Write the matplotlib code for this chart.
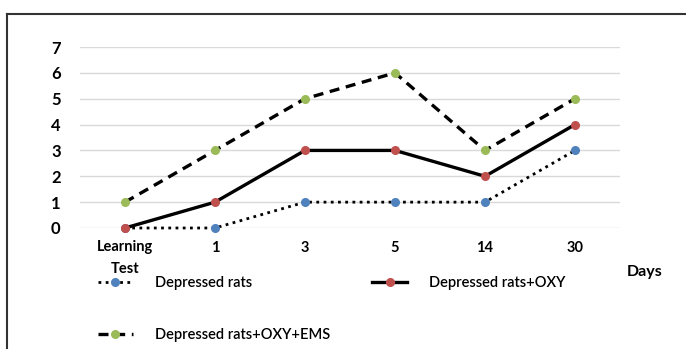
import matplotlib.pyplot as plt
from matplotlib.lines import Line2D

# data
days = ['Learning\nTest', '1', '3', '5', '14', '30']
depressed = [0, 0, 1, 1, 1, 3]
oxy = [0, 1, 3, 3, 2, 4]
oxy_ems = [1, 3, 5, 6, 3, 5]

plt.rcParams['font.family'] = ['Lato', 'DejaVu Sans']

fig = plt.figure(figsize=(6.86, 3.49), dpi=100)
ax = fig.add_axes([80 / 686, 1 - 228 / 349, 540 / 686, 181 / 349])

x = list(range(len(days)))
l1, = ax.plot(x, depressed, color='black', lw=2.0, ls=(0, (1, 1.6)),
              marker='o', ms=5.5, mfc='#4f81bd', mec='#4f81bd', clip_on=False, zorder=3)
l2, = ax.plot(x, oxy, color='black', lw=2.4, ls='-',
              marker='o', ms=5.5, mfc='#c0504d', mec='#c0504d', clip_on=False, zorder=3)
l3, = ax.plot(x, oxy_ems, color='black', lw=2.4, ls=(0, (3, 2)),
              marker='o', ms=5.5, mfc='#9bbb59', mec='#9bbb59', clip_on=False, zorder=3)

ax.set_xlim(-0.5, len(days) - 0.5)
ax.set_ylim(0, 7)
ax.set_yticks(range(0, 8))
ax.set_xticks(x)
ax.set_xticklabels(days, fontsize=10.5, fontweight='bold', linespacing=1.7)
ax.tick_params(axis='y', labelsize=12, length=0, pad=14)
ax.tick_params(axis='x', length=0, pad=9)
for t in ax.get_yticklabels():
    t.set_fontweight('bold')
ax.grid(axis='y', color='#d9d9d9', lw=1)
ax.set_axisbelow(True)
for s in ax.spines.values():
    s.set_visible(False)

fig.text(645 / 686, 1 - 272 / 349, 'Days', fontsize=11.5, fontweight='bold',
         ha='center', va='center')

fig.legend([l1, l3, l2],
           ['Depressed rats', 'Depressed rats+OXY+EMS', 'Depressed rats+OXY'],
           ncol=2, loc='upper left', bbox_to_anchor=(92 / 686, 1 - 270 / 349),
           frameon=False, fontsize=10.5, handlelength=2.4, handletextpad=1.5,
           columnspacing=2.9, labelspacing=2.6, borderaxespad=0,
           prop={'size': 10.5, 'weight': 'semibold'})

# frame left and top edges
fig.add_artist(Line2D([7 / 686, 1], [1 - 14 / 349] * 2, color='#333333', lw=1.5))
fig.add_artist(Line2D([7 / 686] * 2, [0, 1 - 14 / 349], color='#333333', lw=1.5))

fig.savefig('out.png', dpi=100)
